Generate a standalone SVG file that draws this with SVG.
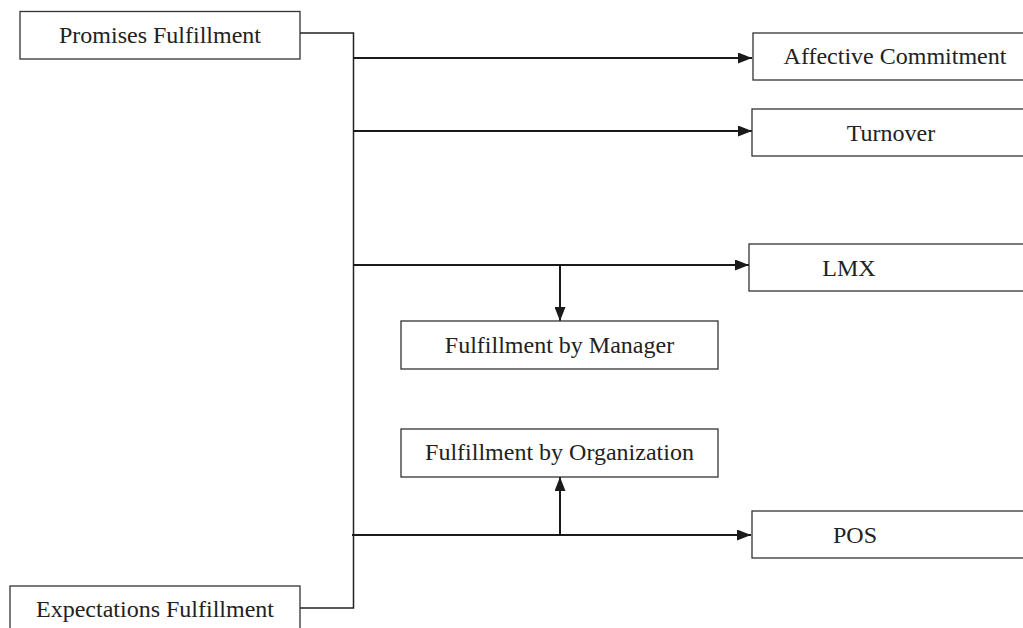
<svg xmlns="http://www.w3.org/2000/svg" width="1023" height="628" viewBox="0 0 1023 628">
<defs>
<marker id="ah" viewBox="0 0 14 11" refX="14" refY="5.5" markerWidth="14" markerHeight="11" markerUnits="userSpaceOnUse" orient="auto">
<path d="M0,0 L14,5.5 L0,11 Z" fill="#1a1a1a"/>
</marker>
</defs>
<style>
.box{fill:#fff;stroke:#333;stroke-width:1.3}
.lbl{font-family:"Liberation Serif","Times New Roman",serif;font-size:24px;fill:#222;text-anchor:middle}
.ln{fill:none;stroke:#222;stroke-width:1.5}
.ar{fill:none;stroke:#1a1a1a;stroke-width:2;marker-end:url(#ah)}
</style>
<rect width="1023" height="628" fill="#fff"/>
<g id="connectors">
<path class="ln" d="M300,33 H353.5 V608 H300"/>
<path class="ar" d="M353,58 H752"/>
<path class="ar" d="M353,131 H752"/>
<path class="ar" d="M353,265 H749"/>
<path class="ar" d="M560,265 V321"/>
<path class="ar" d="M352,535 H751"/>
<path class="ar" d="M560,535 V477"/>
</g>
<g id="promises">
<rect class="box" x="20" y="11.5" width="280" height="47.5"/>
<text class="lbl" x="160" y="43">Promises Fulfillment</text>
</g>
<g id="affective">
<rect class="box" x="753" y="33" width="290" height="47"/>
<text class="lbl" x="895" y="64">Affective Commitment</text>
</g>
<g id="turnover">
<rect class="box" x="752" y="109" width="290" height="47"/>
<text class="lbl" x="891" y="141">Turnover</text>
</g>
<g id="lmx">
<rect class="box" x="749" y="244" width="290" height="47"/>
<text class="lbl" x="849" y="276">LMX</text>
</g>
<g id="manager">
<rect class="box" x="401" y="321" width="317" height="48"/>
<text class="lbl" x="559.5" y="353">Fulfillment by Manager</text>
</g>
<g id="organization">
<rect class="box" x="401" y="429" width="317" height="48"/>
<text class="lbl" x="559.5" y="460">Fulfillment by Organization</text>
</g>
<g id="pos">
<rect class="box" x="752" y="511" width="290" height="47"/>
<text class="lbl" x="855" y="543">POS</text>
</g>
<g id="expectations">
<rect class="box" x="10" y="586" width="290" height="50"/>
<text class="lbl" x="155" y="617">Expectations Fulfillment</text>
</g>
</svg>
